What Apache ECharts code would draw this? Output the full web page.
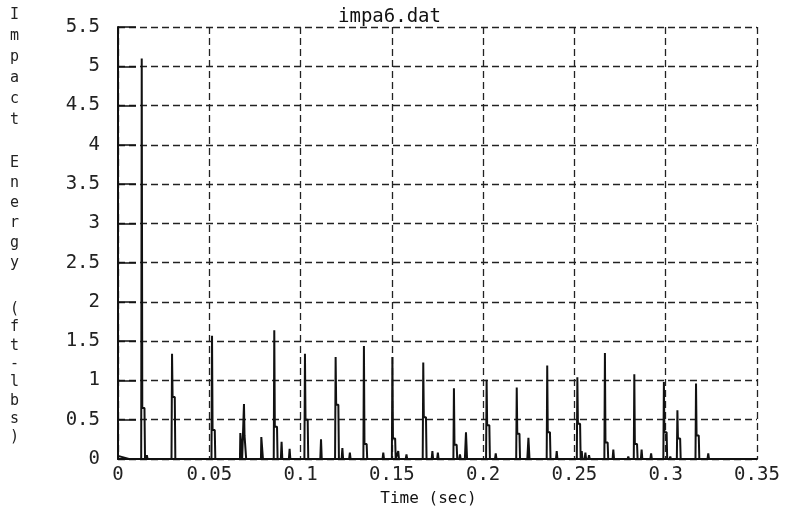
<!DOCTYPE html>
<html>
<head>
<meta charset="utf-8">
<script src="https://cdn.jsdelivr.net/npm/echarts@6/dist/echarts.min.js"></script>
<style>html,body{margin:0;padding:0;background:#fff}#c{width:792px;height:512px}</style>
</head>
<body>
<div id="c"></div>
<script>
// Time (sec) and impact energy (ft-lbs)
const timeSec = [
  0.0000, 0.0060,
  0.0127, 0.0130, 0.0133, 0.0145, 0.0148, 0.0154, 0.0158, 0.0162,
  0.0293, 0.0296, 0.0299, 0.0311, 0.0314,
  0.0512, 0.0515, 0.0518, 0.0530, 0.0533,
  0.0668, 0.0670, 0.0678, 0.0680,
  0.0687, 0.0690, 0.0693, 0.0700, 0.0702,
  0.0783, 0.0785, 0.0792, 0.0794,
  0.0853, 0.0856, 0.0859, 0.0871, 0.0874,
  0.0892, 0.0896, 0.0900,
  0.0936, 0.0940, 0.0944,
  0.1021, 0.1024, 0.1027, 0.1039, 0.1042,
  0.1108, 0.1112, 0.1116,
  0.1189, 0.1192, 0.1195, 0.1207, 0.1210,
  0.1225, 0.1229, 0.1233,
  0.1266, 0.1270, 0.1274,
  0.1344, 0.1347, 0.1350, 0.1362, 0.1365,
  0.1449, 0.1453, 0.1457,
  0.1500, 0.1503, 0.1506, 0.1518, 0.1521,
  0.1531, 0.1535, 0.1539,
  0.1576, 0.1580, 0.1584,
  0.1669, 0.1672, 0.1675, 0.1687, 0.1690,
  0.1718, 0.1722, 0.1726,
  0.1748, 0.1752, 0.1756,
  0.1837, 0.1840, 0.1843, 0.1855, 0.1858,
  0.1869, 0.1873, 0.1877,
  0.1900, 0.1906, 0.1912,
  0.2016, 0.2019, 0.2022, 0.2034, 0.2037,
  0.2065, 0.2069, 0.2073,
  0.2181, 0.2184, 0.2187, 0.2199, 0.2202,
  0.2242, 0.2248, 0.2254,
  0.2348, 0.2351, 0.2354, 0.2366, 0.2369,
  0.2399, 0.2403, 0.2407,
  0.2513, 0.2516, 0.2519, 0.2531, 0.2534,
  0.2536, 0.2540, 0.2544,
  0.2556, 0.2560, 0.2564,
  0.2576, 0.2580, 0.2584,
  0.2664, 0.2667, 0.2670, 0.2682, 0.2685,
  0.2709, 0.2713, 0.2717,
  0.2791, 0.2795, 0.2799,
  0.2825, 0.2828, 0.2831, 0.2843, 0.2846,
  0.2864, 0.2868, 0.2872,
  0.2916, 0.2920, 0.2924,
  0.2987, 0.2990, 0.2993, 0.3005, 0.3008,
  0.3021, 0.3025, 0.3029,
  0.3061, 0.3064, 0.3067, 0.3079, 0.3082,
  0.3163, 0.3166, 0.3169, 0.3181, 0.3184,
  0.3229, 0.3233, 0.3237
];
const energy = [
  0.04, 0,
  0, 5.10, 0.65, 0.65, 0, 0, 0.05, 0,
  0, 1.34, 0.79, 0.79, 0,
  0, 1.57, 0.37, 0.37, 0,
  0, 0.33, 0.33, 0,
  0, 0.70, 0.30, 0.30, 0,
  0, 0.28, 0.28, 0,
  0, 1.64, 0.41, 0.41, 0,
  0, 0.22, 0,
  0, 0.13, 0,
  0, 1.34, 0.50, 0.50, 0,
  0, 0.25, 0,
  0, 1.30, 0.69, 0.69, 0,
  0, 0.14, 0,
  0, 0.08, 0,
  0, 1.44, 0.19, 0.19, 0,
  0, 0.08, 0,
  0, 1.30, 0.26, 0.26, 0,
  0, 0.10, 0,
  0, 0.06, 0,
  0, 1.23, 0.53, 0.53, 0,
  0, 0.10, 0,
  0, 0.08, 0,
  0, 0.90, 0.18, 0.18, 0,
  0, 0.06, 0,
  0, 0.34, 0,
  0, 1.01, 0.43, 0.43, 0,
  0, 0.07, 0,
  0, 0.91, 0.32, 0.32, 0,
  0, 0.27, 0,
  0, 1.19, 0.34, 0.34, 0,
  0, 0.10, 0,
  0, 1.04, 0.45, 0.45, 0,
  0, 0.10, 0,
  0, 0.08, 0,
  0, 0.05, 0,
  0, 1.35, 0.21, 0.21, 0,
  0, 0.12, 0,
  0, 0.03, 0,
  0, 1.08, 0.19, 0.19, 0,
  0, 0.12, 0,
  0, 0.07, 0,
  0, 0.98, 0.34, 0.34, 0,
  0, 0.03, 0,
  0, 0.62, 0.26, 0.26, 0,
  0, 0.96, 0.30, 0.30, 0,
  0, 0.07, 0
];
const xTicks = [0, 0.05, 0.1, 0.15, 0.2, 0.25, 0.3, 0.35];
const yTicks = [0, 0.5, 1, 1.5, 2, 2.5, 3, 3.5, 4, 4.5, 5, 5.5];
const chartTitle = 'impa6.dat';
const xName = 'Time (sec)';
const yNameParts = ['I\nm\np\na\nc\nt', 'E\nn\ne\nr\ng\ny', '(\nf\nt\n-\nl\nb\ns\n)'];

const FONT = 'DejaVu Sans Mono';
const points = timeSec.map((t, i) => [t, energy[i]]);

const chart = echarts.init(document.getElementById('c'), null, {renderer: 'canvas'});
chart.setOption({
  animation: false,
  backgroundColor: '#fff',
  title: {
    text: chartTitle, left: 333, top: 3,
    textStyle: {fontFamily: FONT, fontSize: 19, fontWeight: 'normal', color: '#111'}
  },
  grid: {left: 118, right: 35, top: 27, bottom: 50, containLabel: false},
  xAxis: {
    type: 'value', min: xTicks[0], max: xTicks[xTicks.length - 1], interval: 0.05,
    name: xName, nameLocation: 'middle', nameGap: 32,
    nameTextStyle: {fontFamily: FONT, fontSize: 16, color: '#111', padding: [0, 18, 0, 0]},
    axisLine: {show: true, onZero: false, lineStyle: {color: '#111', width: 2}},
    axisTick: {show: false},
    axisLabel: {fontFamily: FONT, fontSize: 19, color: '#222', margin: 7,
      formatter: v => String(+v.toFixed(2))},
    splitLine: {show: true, lineStyle: {color: '#222', type: [7, 4], width: 1.3}}
  },
  yAxis: {
    type: 'value', min: yTicks[0], max: yTicks[yTicks.length - 1], interval: 0.5,
    axisLine: {show: true, onZero: false, lineStyle: {color: '#111', width: 2}},
    axisTick: {show: true, inside: true, length: 18, lineStyle: {color: '#111', width: 1.5}},
    axisLabel: {fontFamily: FONT, fontSize: 19, color: '#222', margin: 18,
      formatter: v => String(+v.toFixed(1))},
    splitLine: {show: true, lineStyle: {color: '#222', type: [7, 4], width: 1.3}}
  },
  graphic: [
    {type: 'text', left: 10, top: 5, style: {text: yNameParts[0], fontFamily: FONT, fontSize: 15, lineHeight: 21, fill: '#222', align: 'center'}},
    {type: 'text', left: 10, top: 153, style: {text: yNameParts[1], fontFamily: FONT, fontSize: 15, lineHeight: 20, fill: '#222', align: 'center'}},
    {type: 'text', left: 10, top: 300, style: {text: yNameParts[2], fontFamily: FONT, fontSize: 15, lineHeight: 18.3, fill: '#222', align: 'center'}}
  ],
  series: [{
    type: 'line', data: points, showSymbol: false, symbol: 'none',
    lineStyle: {color: '#111', width: 2}, clip: true
  }]
});
</script>
</body>
</html>
